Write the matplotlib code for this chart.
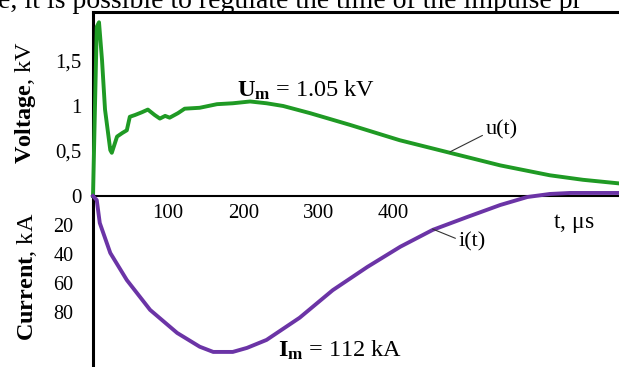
import matplotlib.pyplot as plt

plt.rcParams['font.family'] = ['Liberation Serif', 'DejaVu Serif']
plt.rcParams['mathtext.fontset'] = 'custom'
plt.rcParams['mathtext.rm'] = 'Liberation Serif'
plt.rcParams['mathtext.bf'] = 'Liberation Serif:bold'

# voltage u(t), kV
t_u = [0, 5, 8, 12, 16, 23, 25, 32, 39, 45, 49, 56, 65, 73, 82, 89, 96, 102, 113,
       122, 142, 165, 186, 209, 231, 253, 289, 342, 408, 475, 542, 608, 652, 700]
u = [0, 1.88, 1.93, 1.51, 0.96, 0.51, 0.48, 0.66, 0.70, 0.73, 0.88, 0.90, 0.93,
     0.96, 0.90, 0.86, 0.89, 0.87, 0.92, 0.97, 0.98, 1.02, 1.03, 1.05, 1.03, 1.00,
     0.92, 0.79, 0.62, 0.48, 0.34, 0.23, 0.18, 0.14]

# current i(t), kA (drawn downward)
t_i = [0, 5, 9, 23, 45, 76, 112, 142, 160, 186, 205, 231, 275, 319, 365, 409,
       452, 498, 542, 578, 608, 635, 700]
i = [0, 2.8, 18.6, 39.3, 58, 78.6, 94.5, 104, 107.6, 107.6, 104.8, 99.3, 84, 65,
     49, 35, 23.4, 14.5, 6.2, 0.7, -1.4, -2.1, -2.1]

u_ticks = [0, 0.5, 1, 1.5]
u_labels = ['0', '0,5', '1', '1,5']
i_ticks = [20, 40, 60, 80]
t_ticks = [100, 200, 300, 400]

green = '#1f9a24'
purple = '#6b34a6'

fig = plt.figure(figsize=(6.19, 3.67), dpi=100)
ax_u = fig.add_axes([93 / 619, 171 / 367, 526 / 619, 184 / 367])
ax_i = fig.add_axes([93 / 619, 0, 526 / 619, 171 / 367])
ax_i.patch.set_alpha(0)

ax_u.plot(t_u, u, color=green, lw=2.8, clip_on=False, zorder=3)
ax_i.plot(t_i, i, color=purple, lw=2.8, clip_on=False, zorder=3)

ax_u.set_xlim(0, 700)
ax_u.set_ylim(0, 2.044)
ax_i.set_xlim(0, 700)
ax_i.set_ylim(118, 0)

# frames
ax_u.spines['right'].set_visible(False)
ax_u.spines['top'].set_linewidth(2.2)
ax_u.spines['left'].set_linewidth(2.2)
ax_u.spines['bottom'].set_linewidth(1.5)
for s in ['right', 'top', 'bottom']:
    ax_i.spines[s].set_visible(False)
ax_i.spines['left'].set_linewidth(2.2)

ax_u.set_yticks(u_ticks, u_labels, fontsize=15)
ax_u.set_xticks(t_ticks, [str(v) for v in t_ticks], fontsize=15)
ax_u.tick_params(length=0, pad=8)
ax_u.tick_params(axis='x', pad=6)
ax_i.set_yticks(i_ticks, [str(v) for v in i_ticks], fontsize=14.5)
ax_i.set_xticks([])
ax_i.tick_params(length=0, pad=14)

ax_u.set_ylabel(r'$\mathbf{Voltage}$, kV', fontsize=17.5)
ax_u.yaxis.set_label_coords(-0.104, 0.51)
ax_i.set_ylabel(r'$\mathbf{Current}$, kA', fontsize=17.5)
ax_i.yaxis.set_label_coords(-0.102, 0.53)
ax_u.set_xlabel(r't, $\mathrm{\mu}$s', fontsize=17)
ax_u.xaxis.set_label_coords(0.913, -0.087)

ax_u.text(192, 1.1, r'$\mathbf{U_m}$ = 1.05 kV', fontsize=17.5, va='baseline')
ax_i.text(246, 111, r'$\mathbf{I_m}$ = 112 kA', fontsize=17.5, va='baseline')

ax_u.annotate('u(t)', xy=(475, 0.49), xytext=(522, 0.68), fontsize=16,
              va='baseline', arrowprops=dict(arrowstyle='-', color='#333333', lw=0.8,
                                            shrinkA=0, shrinkB=0, relpos=(0, 0.3)))
ax_i.annotate('i(t)', xy=(452, 22.8), xytext=(486, 34.5), fontsize=16,
              va='baseline', arrowprops=dict(arrowstyle='-', color='#333333', lw=0.8,
                                            shrinkA=0, shrinkB=0, relpos=(0, 0.6)))

# line of body text cut off by the crop, as in the source picture
fig.text(-0.003, 1 - 8 / 367, 'e, it is possible to regulate the time of the impulse pr',
         fontsize=20, va='baseline')

fig.savefig('out.png', dpi=100)
